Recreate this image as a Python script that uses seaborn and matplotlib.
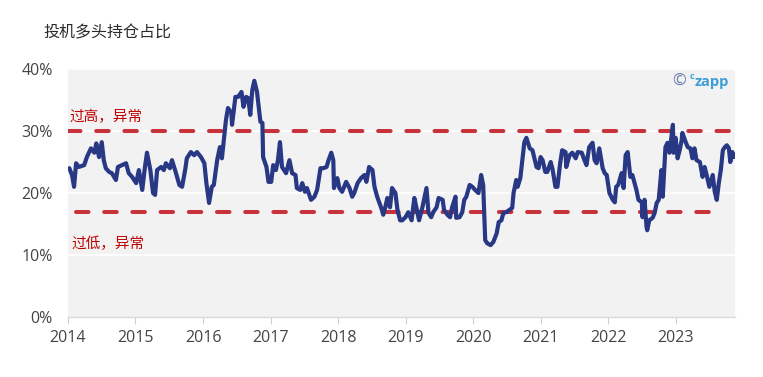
import matplotlib
matplotlib.use("Agg")
import matplotlib.pyplot as plt
import seaborn as sns
import pandas as pd

# Daten: Jahr (dezimal) und Anteil in %
jahre = [
    2014.02, 2014.06, 2014.09, 2014.12, 2014.16, 2014.24, 2014.28, 2014.34, 2014.39, 2014.42,
    2014.46, 2014.50, 2014.53, 2014.56, 2014.61, 2014.65, 2014.71, 2014.74, 2014.80, 2014.86,
    2014.90, 2014.95, 2015.01, 2015.05, 2015.10, 2015.14, 2015.17, 2015.22, 2015.26, 2015.29,
    2015.32, 2015.38, 2015.42, 2015.45, 2015.51, 2015.54, 2015.60, 2015.65, 2015.69, 2015.74,
    2015.76, 2015.82, 2015.87, 2015.91, 2015.97, 2016.02, 2016.05, 2016.09, 2016.13, 2016.16,
    2016.21, 2016.25, 2016.28, 2016.34, 2016.37, 2016.42, 2016.43, 2016.48, 2016.52, 2016.57,
    2016.60, 2016.64, 2016.67, 2016.70, 2016.73, 2016.76, 2016.80, 2016.85, 2016.88, 2016.89,
    2016.94, 2016.97, 2017.01, 2017.04, 2017.08, 2017.11,
    2017.14, 2017.17, 2017.23, 2017.28, 2017.32, 2017.37, 2017.39, 2017.44, 2017.47, 2017.51,
    2017.54, 2017.60, 2017.65, 2017.69, 2017.74, 2017.78, 2017.83, 2017.86, 2017.90, 2017.93,
    2017.94, 2017.99, 2018.02, 2018.06, 2018.12, 2018.17, 2018.21, 2018.24, 2018.29, 2018.34,
    2018.39, 2018.42, 2018.46, 2018.51, 2018.54, 2018.58, 2018.64, 2018.67, 2018.70, 2018.73,
    2018.77, 2018.80, 2018.85, 2018.88, 2018.92, 2018.95, 2019.00, 2019.04, 2019.09, 2019.13,
    2019.16, 2019.20, 2019.25, 2019.31, 2019.34, 2019.38, 2019.41, 2019.46, 2019.49, 2019.55,
    2019.57, 2019.62, 2019.66, 2019.69, 2019.74, 2019.75, 2019.80, 2019.84, 2019.87, 2019.90,
    2019.95, 2019.99, 2020.03, 2020.08, 2020.12, 2020.15, 2020.18, 2020.21, 2020.26, 2020.30,
    2020.35, 2020.38, 2020.42, 2020.45, 2020.49, 2020.54, 2020.58,
    2020.60, 2020.64, 2020.66, 2020.70, 2020.73, 2020.76, 2020.79, 2020.84, 2020.88, 2020.94,
    2020.97, 2021.00, 2021.03, 2021.07, 2021.10, 2021.15, 2021.18, 2021.22, 2021.25, 2021.29,
    2021.32, 2021.37, 2021.38, 2021.43, 2021.47, 2021.52, 2021.55, 2021.61, 2021.65, 2021.68,
    2021.72, 2021.77, 2021.80, 2021.83, 2021.87, 2021.92, 2021.95, 2021.98, 2022.02, 2022.07,
    2022.10, 2022.12, 2022.15, 2022.20, 2022.23, 2022.26, 2022.29, 2022.33, 2022.36, 2022.42,
    2022.45, 2022.50, 2022.51, 2022.54, 2022.57, 2022.58, 2022.61, 2022.66, 2022.69, 2022.72,
    2022.75, 2022.79, 2022.81, 2022.85, 2022.88, 2022.91, 2022.96, 2022.97, 2023.00, 2023.03,
    2023.06, 2023.09, 2023.10, 2023.15, 2023.18, 2023.22, 2023.25, 2023.28, 2023.31, 2023.36,
    2023.40, 2023.43, 2023.46, 2023.50, 2023.55, 2023.58, 2023.61, 2023.64, 2023.67, 2023.70,
    2023.73, 2023.76, 2023.79, 2023.81, 2023.84, 2023.87,
]
anteil = [
    24.0, 22.9, 21.0, 24.8, 24.2, 24.5, 25.8, 27.2, 26.5, 28.0,
    25.8, 28.2, 25.3, 24.0, 23.4, 23.2, 22.1, 24.2, 24.5, 24.8,
    23.2, 22.6, 21.6, 23.7, 20.5, 24.2, 26.5, 23.7, 20.0, 19.7,
    23.7, 24.2, 23.7, 24.8, 24.0, 25.3, 23.2, 21.3, 21.0, 24.0,
    25.6, 26.6, 26.1, 26.6, 25.8, 24.8, 21.6, 18.4, 21.0, 21.3,
    25.3, 27.4, 25.6, 31.8, 33.7, 32.9, 31.0, 35.5, 35.5, 36.3,
    33.9, 35.5, 35.3, 32.6, 36.6, 38.1, 36.3, 31.5, 31.3, 25.8,
    24.2, 21.8, 21.8, 24.5, 23.7, 25.3,
    28.2, 24.2, 23.2, 25.3, 23.2, 22.9, 20.8, 20.5, 21.6, 20.2,
    20.8, 18.9, 19.4, 20.5, 24.0, 24.0, 24.2, 25.3, 26.5, 25.3,
    20.8, 22.4, 20.8, 20.2, 21.8, 20.8, 19.4, 20.0, 21.6, 22.4,
    22.9, 21.8, 24.2, 23.7, 21.0, 19.4, 17.6, 16.5, 17.7, 19.2,
    17.7, 20.8, 20.0, 17.3, 15.6, 15.6, 16.1, 16.9, 15.6, 19.2,
    17.7, 15.6, 17.7, 20.8, 16.8, 16.1, 16.9, 17.7, 19.2, 18.9,
    17.3, 16.5, 16.1, 17.7, 19.4, 16.0, 16.1, 16.9, 18.9, 19.4,
    21.3, 21.0, 20.5, 20.0, 22.9, 21.3, 12.4, 11.9, 11.6, 12.1,
    13.5, 15.3, 15.6, 16.8, 16.9, 17.3, 17.6,
    20.0, 22.1, 21.0, 22.4, 25.3, 28.2, 28.9, 27.2, 26.9, 24.2,
    24.0, 25.8, 25.3, 23.4, 23.4, 25.0, 23.7, 21.0, 21.0, 24.8,
    26.9, 26.6, 24.2, 26.1, 26.5, 25.6, 26.6, 26.5, 25.3, 24.5,
    27.4, 28.1, 25.3, 24.8, 27.2, 24.0, 23.2, 22.9, 20.0, 18.9,
    18.5, 21.0, 21.3, 23.2, 20.8, 26.1, 26.6, 22.6, 22.9, 20.5,
    18.9, 18.5, 16.1, 18.9, 14.5, 14.0, 15.6, 16.0, 16.8, 18.4,
    18.9, 23.7, 19.4, 27.4, 28.1, 26.5, 31.0, 26.5, 28.9, 25.6,
    26.9, 28.5, 29.7, 28.2, 27.4, 27.2, 25.6, 27.2, 25.3, 25.0,
    22.6, 24.2, 22.9, 21.0, 22.9, 20.2, 18.9, 21.6, 23.7, 26.9,
    27.4, 27.7, 27.2, 25.0, 26.6, 25.8,
]

# Schwellen
hoch_wert, tief_wert = 30, 17
hoch_x = [2014.0, 2023.88]
tief_x = [2014.12, 2023.70]
hoch_text, tief_text = "过高，异常", "过低，异常"

jahr_ticks = list(range(2014, 2024))
y_ticks = [0, 10, 20, 30, 40]
y_labels = ["0%", "10%", "20%", "30%", "40%"]
titel = "投机多头持仓占比"

df = pd.DataFrame({"jahr": jahre, "anteil": anteil})

sns.set_theme(style="white")
plt.rcParams["font.family"] = ["Open Sans", "Noto Sans CJK SC", "DejaVu Sans"]

fig = plt.figure(figsize=(7.63, 3.77), dpi=100)
ax = fig.add_axes([0.0891, 0.159, 0.8742, 0.658])
ax.set_facecolor("#f2f2f2")

for y in y_ticks[1:]:
    ax.axhline(y, color="white", lw=1.3, zorder=1)

ax.plot(hoch_x, [hoch_wert] * 2, color="#c8323a", lw=2.9,
        linestyle=(0, (3.1, 3.9)), dash_capstyle="round", zorder=2)
ax.plot(tief_x, [tief_wert] * 2, color="#c8323a", lw=2.9,
        linestyle=(0, (3.1, 3.9)), dash_capstyle="round", zorder=2)

sns.lineplot(data=df, x="jahr", y="anteil", ax=ax, color="#283885",
             lw=3.0, estimator=None, zorder=3)

ax.text(2014.02, 32.3, hoch_text, color="#c00000", fontsize=10.5,
        family=["Noto Sans CJK SC"], fontweight="medium", va="center", ha="left")
ax.text(2014.05, 11.8, tief_text, color="#c00000", fontsize=10.5,
        family=["Noto Sans CJK SC"], fontweight="medium", va="center", ha="left")

ax.set_xlim(2014.0, 2023.88)
ax.set_ylim(0, 40)
ax.set_xticks(jahr_ticks)
ax.set_xticklabels([str(j) for j in jahr_ticks])
ax.set_yticks(y_ticks)
ax.set_yticklabels(y_labels)
ax.set_xlabel("")
ax.set_ylabel("")
ax.tick_params(axis="x", length=5, width=0.8, color="#d0d0d0",
               labelsize=11.5, labelcolor="#444444", pad=4, direction="out", bottom=True)
ax.tick_params(axis="y", length=0, labelsize=11.5, labelcolor="#444444", pad=11)
for s in ["top", "right", "left"]:
    ax.spines[s].set_visible(False)
ax.spines["bottom"].set_color("#d9d9d9")
ax.spines["bottom"].set_linewidth(1)

fig.text(0.057, 0.912, titel, fontsize=11.5, color="#2b2b2b",
         family=["Noto Sans CJK SC"], fontweight="medium", va="center", ha="left")

# Logo
fig.text(0.881, 0.782, "©", fontsize=12, color="#6a7bb0", va="center", ha="left")
fig.text(0.904, 0.797, "c", fontsize=6.5, color="#3a9ed8", fontweight="bold",
         va="center", ha="left")
fig.text(0.911, 0.782, "zapp", fontsize=10.5, color="#3a9ed8", fontweight="bold",
         va="center", ha="left")

fig.savefig("out.png", dpi=100)
